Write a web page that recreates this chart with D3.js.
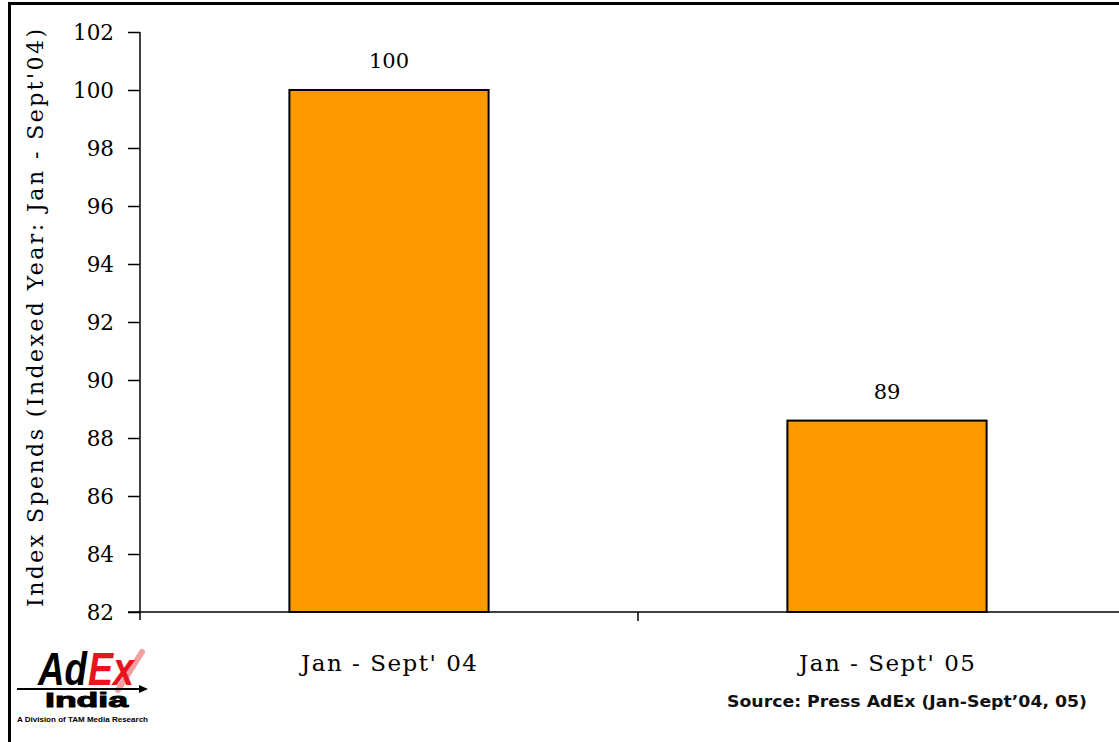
<!DOCTYPE html>
<html><head><meta charset="utf-8">
<script src="https://cdn.jsdelivr.net/npm/d3@7"></script>
<style>body{margin:0;background:#fff;}svg{display:block;}</style>
</head><body>
<script>
const categories = ["Jan - Sept' 04", "Jan - Sept' 05"];
const values = [100, 88.6];
const valueLabels = ["100", "89"];
const yTicks = [82, 84, 86, 88, 90, 92, 94, 96, 98, 100, 102];
const yTitle = "Index Spends (Indexed Year: Jan - Sept'04)";
const sourceText = "Source: Press AdEx (Jan-Sept\u201904, 05)";

const W = 1119, H = 742;
const svg = d3.select("body").append("svg").attr("width", W).attr("height", H);
svg.append("rect").attr("width", W).attr("height", H).attr("fill", "#fff");

// frame
svg.append("line").attr("x1", 9.5).attr("x2", 9.5).attr("y1", 2).attr("y2", H).attr("stroke", "#000").attr("stroke-width", 3);
svg.append("line").attr("x1", 8).attr("x2", W).attr("y1", 3.5).attr("y2", 3.5).attr("stroke", "#000").attr("stroke-width", 3);

const x0 = 140, yBase = 612;
const x = d3.scaleBand().domain(categories).range([x0, x0 + 996]).padding(0);
const y = d3.scaleLinear().domain([82, 102]).range([yBase, 32]);

const serif = "'DejaVu Serif', 'Liberation Serif', serif";

// bars
const bw = x.bandwidth() * 0.4;
svg.selectAll("rect.bar").data(values).join("rect")
  .attr("class", "bar")
  .attr("x", (d, i) => x(categories[i]) + x.bandwidth() / 2 - bw / 2)
  .attr("y", d => y(d))
  .attr("width", bw)
  .attr("height", d => y(82) - y(d))
  .attr("fill", "#ff9900")
  .attr("stroke", "#000").attr("stroke-width", 2);

// value labels
svg.selectAll("text.vl").data(values).join("text")
  .attr("class", "vl")
  .attr("x", (d, i) => x(categories[i]) + x.bandwidth() / 2)
  .attr("y", d => y(d) - 22)
  .attr("text-anchor", "middle")
  .attr("font-family", serif).attr("font-size", 21)
  .text((d, i) => valueLabels[i]);

// y axis
const yAxis = svg.append("g").attr("transform", `translate(${x0},0)`)
  .call(d3.axisLeft(y).tickValues(yTicks).tickSize(12).tickPadding(14).tickSizeOuter(0));
yAxis.select(".domain").attr("stroke", "#000").attr("stroke-width", 1.5);
yAxis.selectAll(".tick line").attr("stroke", "#000").attr("stroke-width", 1.5);
yAxis.selectAll(".tick text").attr("font-family", serif).attr("font-size", 21.5).attr("fill", "#000").attr("dy", "0.36em");
yAxis.select(".domain").attr("d", `M0,${y(102)}V${yBase + 8}`);

// x axis
const xAxis = svg.append("g").attr("transform", `translate(0,${yBase})`)
  .call(d3.axisBottom(x).tickSize(0).tickPadding(43).tickSizeOuter(0));
xAxis.select(".domain").attr("d", `M${x0 - 12},0H${W}`).attr("stroke", "#000").attr("stroke-width", 1.5);
xAxis.selectAll(".tick text").attr("font-family", serif).attr("font-size", 23)
  .attr("textLength", 176).attr("lengthAdjust", "spacing").attr("fill", "#000");
// boundary ticks between categories
svg.selectAll("line.xt").data(categories).join("line").attr("class", "xt")
  .attr("x1", d => x(d) + x.bandwidth()).attr("x2", d => x(d) + x.bandwidth())
  .attr("y1", yBase).attr("y2", yBase + 9).attr("stroke", "#000").attr("stroke-width", 1.5);

// y title
svg.append("text")
  .attr("transform", `translate(43,318) rotate(-90)`)
  .attr("text-anchor", "middle")
  .attr("font-family", serif).attr("font-size", 22)
  .attr("textLength", 578).attr("lengthAdjust", "spacing")
  .text(yTitle);

// source
svg.append("text").attr("x", 727).attr("y", 707)
  .attr("font-family", "'DejaVu Sans', sans-serif").attr("font-size", 15).attr("font-weight", "bold")
  .attr("fill", "#111").attr("textLength", 360).attr("lengthAdjust", "spacingAndGlyphs")
  .text(sourceText);

// logo
const logo = svg.append("g");
const sans = "'Liberation Sans', Arial, sans-serif";
logo.append("line").attr("x1", 118).attr("y1", 690).attr("x2", 142).attr("y2", 652)
  .attr("stroke", "#f3a0a0").attr("stroke-width", 6).attr("stroke-linecap", "round");
logo.append("text").attr("x", 38).attr("y", 685)
  .attr("font-family", sans).attr("font-size", 46).attr("font-weight", "bold").attr("font-style", "italic")
  .attr("textLength", 49).attr("lengthAdjust", "spacingAndGlyphs").attr("fill", "#000").text("Ad");
logo.append("text").attr("x", 88).attr("y", 685)
  .attr("font-family", sans).attr("font-size", 46).attr("font-weight", "bold").attr("font-style", "italic")
  .attr("textLength", 46).attr("lengthAdjust", "spacingAndGlyphs").attr("fill", "#e8141b").text("Ex");
logo.append("line").attr("x1", 17).attr("x2", 141).attr("y1", 689).attr("y2", 689).attr("stroke", "#000").attr("stroke-width", 2);
logo.append("path").attr("d", "M148,689 L139,685 L139,693 Z").attr("fill", "#000");
logo.append("text").attr("x", 45).attr("y", 707)
  .attr("font-family", sans).attr("font-size", 21).attr("font-weight", "900")
  .attr("textLength", 83).attr("lengthAdjust", "spacingAndGlyphs")
  .attr("stroke", "#000").attr("stroke-width", 1).attr("fill", "#000").text("India");
logo.append("text").attr("x", 17).attr("y", 722)
  .attr("font-family", sans).attr("font-size", 7).attr("font-weight", "bold")
  .attr("textLength", 131).attr("lengthAdjust", "spacingAndGlyphs")
  .attr("fill", "#000").text("A Division of TAM Media Research");
</script>
</body></html>
